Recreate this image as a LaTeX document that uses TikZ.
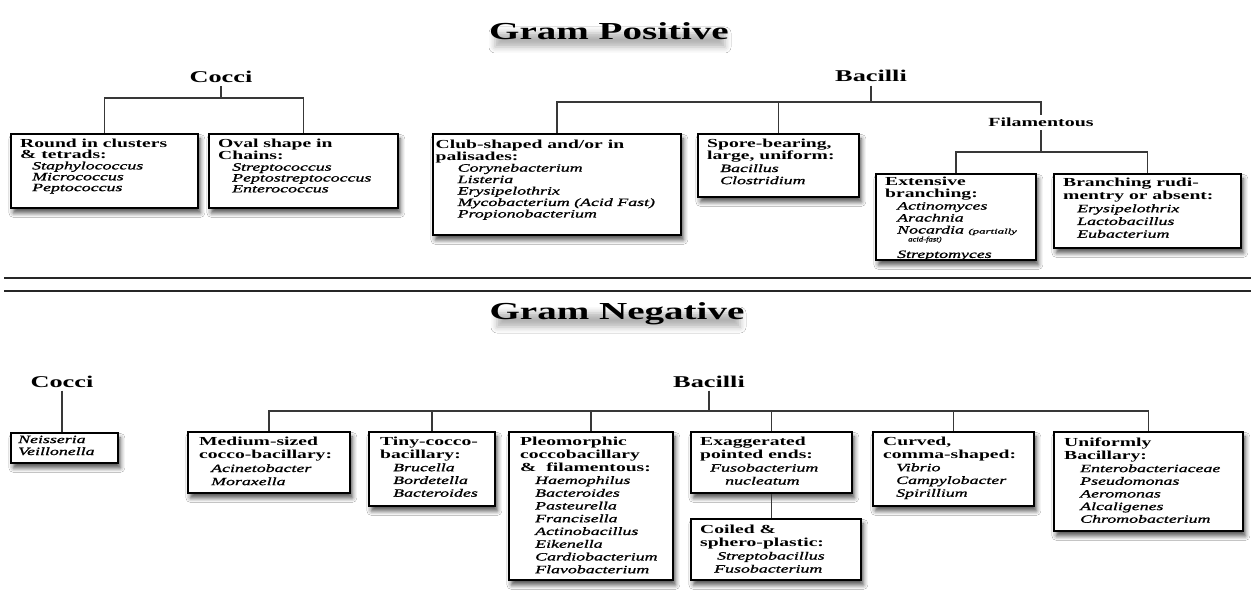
\documentclass[tikz,border=0pt]{standalone}
\usepackage{graphicx}
\usepackage{fontspec}
\setmainfont[FakeStretch=1.6, ItalicFeatures={FakeBold=1.2}]{Liberation Serif}
\usetikzlibrary{shadows.blur}
\newcommand\hd[1]{{\fontsize{12.3}{11.5}\selectfont\bfseries #1}}
\newcommand\gi[2][12]{\hspace*{#1bp}\textit{#2}}
\tikzset{
  bx/.style={draw=black, line width=1.8bp, fill=white, inner sep=0pt, anchor=north west,
    blur shadow={shadow xshift=2.5bp, shadow yshift=-5bp, shadow blur radius=4.5bp, shadow opacity=68}},
  tx/.style={anchor=north west, inner sep=0pt, align=left, font=\fontsize{11.2}{#1}\selectfont},
  tx/.default=11.5,
  lnk/.style={line width=1.3bp, draw=black!78},
  sepline/.style={line width=1.8bp, draw=black!85},
  lbl/.style={font=\fontsize{16.5}{18}\selectfont\bfseries, inner sep=0pt, outer sep=3.5bp, anchor=base},
  ttl/.style={font=\fontsize{24.5}{26}\selectfont\bfseries, inner sep=0pt, anchor=base},
  glow/.style={blur shadow={shadow xshift=0bp, shadow yshift=-5bp, shadow blur radius=6bp, shadow opacity=30}},
}
\begin{document}
\begin{tikzpicture}[x=1bp,y=-1bp]
\useasboundingbox (0,0) rectangle (1251,592);
\fill[white] (0,0) rectangle (1251,592);

% heading glows
\path[glow] (495,28) rectangle (725,42);
\path[glow] (497,308) rectangle (740,322);

% headings
\node[ttl] (gp) at (609,39.5) {Gram Positive};
\node[ttl] (gn) at (617,320) {Gram Negative};

% separators
\draw[sepline] (4,278) -- (1251,278);
\draw[sepline] (4,291) -- (1251,291);

% ===== Gram positive =====
\node[lbl] (pc) at (221,82.5) {Cocci};
\node[lbl] (pb) at (871,82) {Bacilli};
\node[lbl, font=\fontsize{12.5}{14}\selectfont\bfseries, outer sep=3bp] (fil) at (1041,127) {Filamentous};

\node[bx, minimum width=187bp, minimum height=74bp] (r1) at (10,133) {};
\node[bx, minimum width=189bp, minimum height=74bp] (r2) at (208,133) {};
\node[bx, minimum width=248bp, minimum height=101bp] (c1) at (432,133) {};
\node[bx, minimum width=161bp, minimum height=63bp] (c2) at (697,133) {};
\node[bx, minimum width=160bp, minimum height=86bp] (e1) at (875,173) {};
\node[bx, minimum width=187bp, minimum height=74bp] (e2) at (1053,173) {};

\node[tx=10.9] (r1t) at ([shift={(10bp,-6bp)}]r1.north west)
  {\hd{Round in clusters}\\ \hd{\& tetrads:}\\ \gi{Staphylococcus}\\ \gi{Micrococcus}\\ \gi{Peptococcus}};
\node[tx=10.9] (r2t) at ([shift={(10bp,-6bp)}]r2.north west)
  {\hd{Oval shape in}\\ \hd{Chains:}\\ \gi[14]{Streptococcus}\\ \gi[14]{Peptostreptococcus}\\ \gi[14]{Enterococcus}};
\node[tx=11.5] (c1t) at ([shift={(3.5bp,-7bp)}]c1.north west)
  {\hd{Club-shaped and/or in}\\ \hd{palisades:}\\ \gi[22]{Corynebacterium}\\ \gi[22]{Listeria}\\ \gi[22]{Erysipelothrix}\\ \gi[22]{Mycobacterium (Acid Fast)}\\ \gi[22]{Propionobacterium}};
\node[tx=12.2] (c2t) at ([shift={(10bp,-6bp)}]c2.north west)
  {\hd{Spore-bearing,}\\ \hd{large, uniform:}\\ \gi[13]{Bacillus}\\ \gi[13]{Clostridium}};
\node[tx=12] (e1t) at ([shift={(10bp,-4bp)}]e1.north west)
  {\hd{Extensive}\\ \hd{branching:}\\ \gi{Actinomyces}\\ \gi{Arachnia}\\
   \gi{Nocardia} {\fontsize{7}{8}\selectfont\itshape\scalebox{1.15}[1]{(partially}}\\[-4bp]
   \hspace*{23bp}{\fontsize{7}{8}\selectfont\itshape\scalebox{0.78}[1]{acid-fast)}}\\[4.5bp]
   \gi{Streptomyces}};
\node[tx=12.8] (e2t) at ([shift={(10bp,-5bp)}]e2.north west)
  {\hd{Branching rudi-}\\ \hd{mentry or absent:}\\ \gi[14]{Erysipelothrix}\\ \gi[14]{Lactobacillus}\\ \gi[14]{Eubacterium}};

\coordinate (pcb) at (221,98);
\coordinate (pbb) at (871,102);
\coordinate (fb) at (1041,152);
\draw[lnk] (pc.south) -- (pcb);
\draw[lnk] (r1.north) |- (pcb) -| (r2.north);
\draw[lnk] (pb.south) -- (pbb);
\draw[lnk] (c1.north) |- (pbb) -| (fil.north);
\draw[lnk] (c2.north) -- (c2.north |- pbb);
\draw[lnk] (fil.south) -- (fb);
\draw[lnk] (e1.north) |- (fb) -| (e2.north);

% ===== Gram negative =====
\node[lbl] (nc) at (62,387) {Cocci};
\node[lbl] (nb) at (709,387) {Bacilli};

\node[bx, minimum width=107bp, minimum height=30bp] (n0) at (10,432) {};
\node[bx, minimum width=162bp, minimum height=61bp] (m1) at (187,431) {};
\node[bx, minimum width=126bp, minimum height=74bp] (m2) at (368,431) {};
\node[bx, minimum width=164bp, minimum height=148bp] (m3) at (508,431) {};
\node[bx, minimum width=161bp, minimum height=61bp] (m4) at (690,431) {};
\node[bx, minimum width=170bp, minimum height=61bp] (m5) at (690,518) {};
\node[bx, minimum width=161bp, minimum height=74bp] (m6) at (872,431) {};
\node[bx, minimum width=189bp, minimum height=99bp] (m7) at (1053,431) {};

\node[tx=12] (n0t) at ([shift={(8bp,-3.5bp)}]n0.north west)
  {\textit{Neisseria}\\ \textit{Veillonella}};
\node[tx=13.2] (m1t) at ([shift={(12bp,-6bp)}]m1.north west)
  {\hd{Medium-sized}\\ \hd{cocco-bacillary:}\\ \gi{Acinetobacter}\\ \gi{Moraxella}};
\node[tx=12.8] (m2t) at ([shift={(12bp,-6bp)}]m2.north west)
  {\hd{Tiny-cocco-}\\ \hd{bacillary:}\\ \gi[13]{Brucella}\\ \gi[13]{Bordetella}\\ \gi[13]{Bacteroides}};
\node[tx=12.8] (m3t) at ([shift={(12bp,-6bp)}]m3.north west)
  {\hd{Pleomorphic}\\ \hd{coccobacillary}\\ \hd{\&\ \ filamentous:}\\ \gi[15]{Haemophilus}\\ \gi[15]{Bacteroides}\\ \gi[15]{Pasteurella}\\ \gi[15]{Francisella}\\ \gi[15]{Actinobacillus}\\ \gi[15]{Eikenella}\\ \gi[15]{Cardiobacterium}\\ \gi[15]{Flavobacterium}};
\node[tx=13] (m4t) at ([shift={(10bp,-6bp)}]m4.north west)
  {\hd{Exaggerated}\\ \hd{pointed ends:}\\ \gi[10]{Fusobacterium}\\ \gi[25]{nucleatum}};
\node[tx=13] (m5t) at ([shift={(10bp,-7bp)}]m5.north west)
  {\hd{Coiled \&}\\ \hd{sphero-plastic:}\\ \gi[17]{Streptobacillus}\\ \gi[14]{Fusobacterium}};
\node[tx=12.8] (m6t) at ([shift={(11bp,-6bp)}]m6.north west)
  {\hd{Curved,}\\ \hd{comma-shaped:}\\ \gi[13]{Vibrio}\\ \gi[13]{Campylobacter}\\ \gi[13]{Spirillium}};
\node[tx=12.7] (m7t) at ([shift={(11bp,-7bp)}]m7.north west)
  {\hd{Uniformly}\\ \hd{Bacillary:}\\ \gi[16]{Enterobacteriaceae}\\ \gi[16]{Pseudomonas}\\ \gi[16]{Aeromonas}\\ \gi[16]{Alcaligenes}\\ \gi[16]{Chromobacterium}};

\coordinate (nbb) at (709,411);
\draw[lnk] (nc.south) -- (nc.south |- n0.north);
\draw[lnk] (nb.south) -- (nbb);
\draw[lnk] (m1.north) |- (nbb) -| (m7.north);
\foreach \b in {m2,m3,m4,m6} \draw[lnk] (\b.north) -- (\b.north |- nbb);
\draw[lnk] (m4.south) -- (m4.south |- m5.north);
\end{tikzpicture}
\end{document}
